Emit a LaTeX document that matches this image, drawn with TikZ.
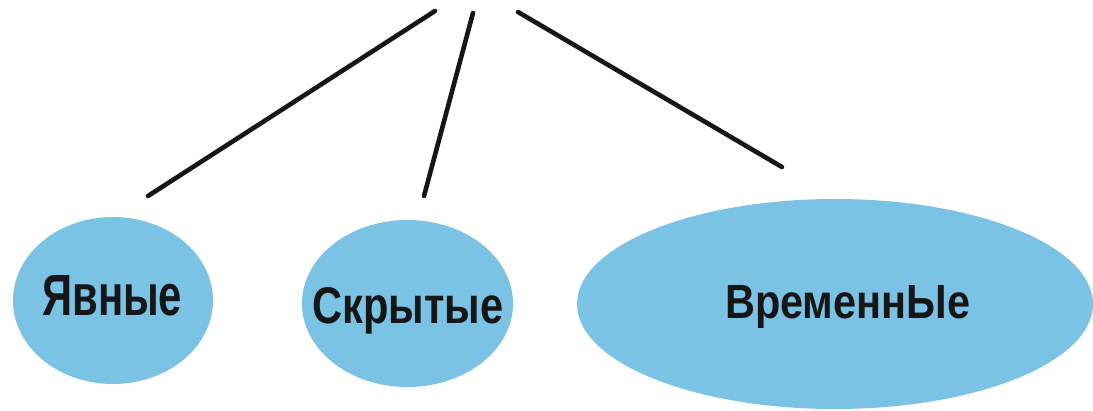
\documentclass[tikz,border=0pt]{standalone}
\usepackage{fontspec}
\setmainfont{Liberation Sans}
\usetikzlibrary{shapes.geometric}
\definecolor{bubble}{HTML}{7BC3E4}
\definecolor{ink}{HTML}{161616}
\tikzset{
  bubble/.style={ellipse, fill=bubble, draw=none, inner sep=0pt},
  word/.style={anchor=base west, inner sep=0pt, text=ink, font=\bfseries},
  link/.style={draw=ink, line width=4.6pt, line cap=round}
}
\begin{document}
\begin{tikzpicture}[x=1pt,y=-1pt]
\useasboundingbox (0,0) rectangle (1093,410);
% ellipses
\node[bubble, minimum width=200pt, minimum height=167pt] (e1) at (113,300.5) {};
\node[bubble, minimum width=211pt, minimum height=167pt] (e2) at (407.5,303.5) {};
\node[bubble, minimum width=516pt, minimum height=210pt] (e3) at (835,304) {};
% texts
\node[word] (t1) at (42,315) {\resizebox{140pt}{40pt}{Явные}};
\node[word] (t2) at (312,323) {\resizebox{191pt}{36pt}{Скрытые}};
\node[word] (t3) at (725,318) {\resizebox{245pt}{33pt}{ВременнЫе}};
% connector ends
\coordinate (a1) at (435,11);
\coordinate (b1) at (148,196);
\coordinate (a2) at (473,13);
\coordinate (b2) at (424,196);
\coordinate (a3) at (518,12);
\coordinate (b3) at (782,167);
\draw[link] (a1) -- (b1);
\draw[link] (a2) -- (b2);
\draw[link] (a3) -- (b3);
\end{tikzpicture}
\end{document}
